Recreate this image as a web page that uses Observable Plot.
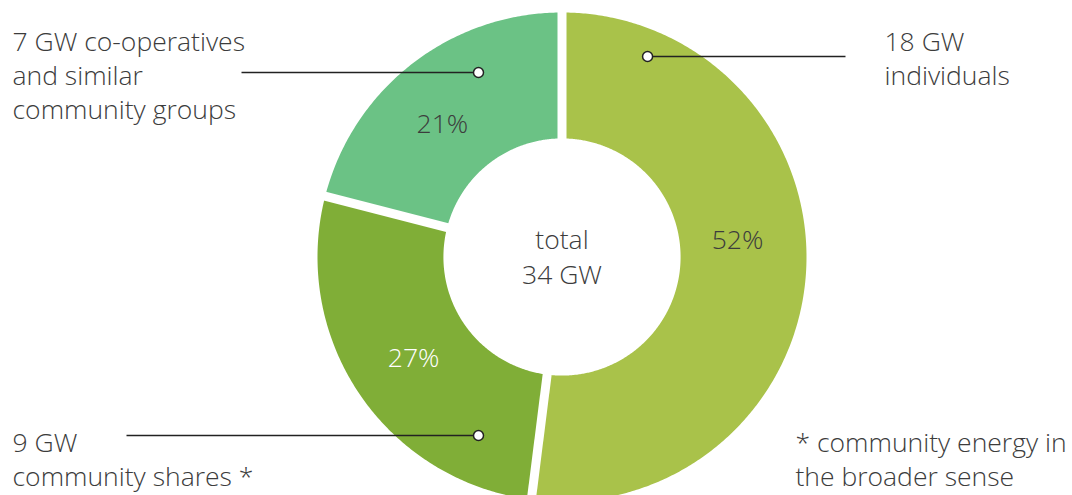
<!DOCTYPE html>
<html>
<head>
<meta charset="utf-8">
<script src="https://cdn.jsdelivr.net/npm/d3@7"></script>
<script src="https://cdn.jsdelivr.net/npm/@observablehq/plot@0.6"></script>
<style>
  html, body { margin: 0; padding: 0; background: #fff; }
  #chart svg { display: block; }
</style>
</head>
<body>
<div id="chart"></div>
<script>
// ---- data ----
const categories = ["individuals", "community shares *", "co-operatives and similar community groups"];
const capacityGW = [18, 9, 7];
const sharePct = [52, 27, 21];
const totalGW = 34;
const sliceColors = ["#a9c24a", "#80ae37", "#6bc285"];
const calloutTexts = ["18 GW\nindividuals", "9 GW\ncommunity shares *", "7 GW co-operatives\nand similar\ncommunity groups"];
const footnote = "* community energy in\nthe broader sense";
const centerText = "total\n" + totalGW + " GW";

// ---- layout (radius = 1 unit) ----
const outerR = 1, innerR = 0.485;
const pctLabelPos = [[0.718, 0.068], [-0.607, -0.415], [-0.489, 0.542]];
const pctLabelFill = ["#3c3c3c", "#ffffff", "#3c3c3c"];
const dotPos = [[0.350, 0.820], [-0.3415, -0.730], [-0.3415, 0.7546]];
const lineEndX = [1.1595, -1.7812, -1.3108];
const textPos = [[1.319, 0.818], [-2.2474, -0.822], [-2.2474, 0.7485]];
const footPos = [0.955, -0.822];

// build slice polygons from shares
const total = d3.sum(sharePct);
let acc = 0;
const slices = sharePct.map((v, i) => {
  const a0 = acc / total * 2 * Math.PI;
  acc += v;
  const a1 = acc / total * 2 * Math.PI;
  return {i, a0, a1, name: categories[i], color: sliceColors[i]};
});
const polyPts = [];
for (const s of slices) {
  const n = Math.max(2, Math.ceil((s.a1 - s.a0) / (Math.PI / 360)));
  for (let k = 0; k <= n; k++) {
    const a = s.a0 + (s.a1 - s.a0) * k / n;
    polyPts.push({name: s.name, color: s.color, x: outerR * Math.sin(a), y: outerR * Math.cos(a)});
  }
  for (let k = n; k >= 0; k--) {
    const a = s.a0 + (s.a1 - s.a0) * k / n;
    polyPts.push({name: s.name, color: s.color, x: innerR * Math.sin(a), y: innerR * Math.cos(a)});
  }
}
const gaps = slices.map(s => ({
  x1: (innerR - 0.05) * Math.sin(s.a0), y1: (innerR - 0.05) * Math.cos(s.a0),
  x2: (outerR + 0.1) * Math.sin(s.a0), y2: (outerR + 0.1) * Math.cos(s.a0)
}));

const pctLabels = slices.map((s, i) => ({x: pctLabelPos[i][0], y: pctLabelPos[i][1], text: sharePct[i] + "%", fill: pctLabelFill[i]}));
const callouts = slices.map((s, i) => ({
  dx: dotPos[i][0], dy: dotPos[i][1], ex: lineEndX[i],
  tx: textPos[i][0], ty: textPos[i][1], text: calloutTexts[i]
}));

const W = 1072, H = 495;
const cx = 561.5, cy = 256.5, R = 244.5;
const font = "'Open Sans', sans-serif";
const fs = 26.5, lh = 1.29;

const chart = Plot.plot({
  width: W, height: H,
  margin: 0,
  style: {fontFamily: font, background: "#fff"},
  x: {domain: [-cx / R, (W - cx) / R], axis: null},
  y: {domain: [(cy - H) / R, cy / R], axis: null},
  color: {type: "identity"},
  marks: [
    Plot.line(polyPts, {x: "x", y: "y", z: "name", fill: "color", stroke: "none", curve: "linear"}),
    Plot.link(gaps, {x1: "x1", y1: "y1", x2: "x2", y2: "y2", stroke: "#fff", strokeWidth: 9}),
    Plot.text(pctLabels, {x: "x", y: "y", text: "text", fill: "fill", fontSize: fs, fontWeight: 300}),
    Plot.text([centerText], {x: 0, y: 0.006, text: d => d, fill: "#3c3c3c", fontSize: fs, fontWeight: 300, lineHeight: lh}),
    Plot.link(callouts, {x1: "dx", y1: "dy", x2: "ex", y2: "dy", stroke: "#222", strokeWidth: 1.5}),
    Plot.dot(callouts, {x: "dx", y: "dy", r: 5, fill: "#fff", stroke: "#222", strokeWidth: 1.5}),
    Plot.text(callouts, {x: "tx", y: "ty", text: "text", textAnchor: "start", fill: "#3c3c3c", fontSize: fs, fontWeight: 300, lineHeight: lh}),
    Plot.text([footnote], {x: footPos[0], y: footPos[1], text: d => d, textAnchor: "start", fill: "#3c3c3c", fontSize: fs, fontWeight: 300, lineHeight: lh})
  ]
});
document.getElementById("chart").appendChild(chart);
</script>
</body>
</html>
